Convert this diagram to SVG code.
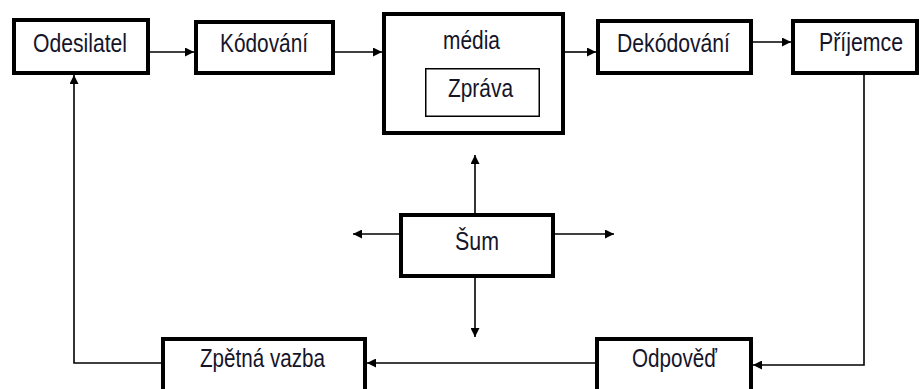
<svg xmlns="http://www.w3.org/2000/svg" width="921" height="389" viewBox="0 0 921 389">
<defs>
<style>
.box{fill:#fff;stroke:#000;stroke-width:4}
.thin{fill:#fff;stroke:#000;stroke-width:1.5}
.lbl{font-family:"Liberation Sans",Arial,sans-serif;font-size:25px;fill:#15152a}
.con{fill:none;stroke:#000;stroke-width:1.6}
</style>
<marker id="ah" viewBox="0 0 10 10" refX="10" refY="5" markerWidth="10" markerHeight="9" markerUnits="userSpaceOnUse" orient="auto">
<path d="M0,0 L10,5 L0,10 z" fill="#000"/>
</marker>
</defs>
<rect width="921" height="389" fill="#fff"/>
<g id="connectors">
<path class="con" d="M150,52 H194" marker-end="url(#ah)"/>
<path class="con" d="M335,52 H382" marker-end="url(#ah)"/>
<path class="con" d="M565,52 H596" marker-end="url(#ah)"/>
<path class="con" d="M753,42 H791" marker-end="url(#ah)"/>
<path class="con" d="M864,75 V365 H753" marker-end="url(#ah)"/>
<path class="con" d="M595,363 H367" marker-end="url(#ah)"/>
<path class="con" d="M161,363 H74 V75" marker-end="url(#ah)"/>
<path class="con" d="M475,213 V155" marker-end="url(#ah)"/>
<path class="con" d="M475,278 V337" marker-end="url(#ah)"/>
<path class="con" d="M399,234 H353" marker-end="url(#ah)"/>
<path class="con" d="M555,234 H614" marker-end="url(#ah)"/>
</g>
<g id="odesilatel"><rect class="box" x="14" y="20" width="134" height="53"/><text class="lbl" x="33" y="52" textLength="94" lengthAdjust="spacingAndGlyphs">Odesilatel</text></g>
<g id="kodovani"><rect class="box" x="196" y="22" width="137" height="51"/><text class="lbl" x="220" y="52" textLength="88" lengthAdjust="spacingAndGlyphs">Kódování</text></g>
<g id="media"><rect class="box" x="384" y="14" width="179" height="119"/><text class="lbl" x="443" y="49" textLength="57" lengthAdjust="spacingAndGlyphs">média</text></g>
<g id="zprava"><rect class="thin" x="425.75" y="68.75" width="113.5" height="47.5"/><text class="lbl" x="448" y="97" textLength="65" lengthAdjust="spacingAndGlyphs">Zpráva</text></g>
<g id="dekodovani"><rect class="box" x="598" y="21" width="153" height="52"/><text class="lbl" x="617" y="52" textLength="113" lengthAdjust="spacingAndGlyphs">Dekódování</text></g>
<g id="prijemce"><rect class="box" x="793" y="21" width="124" height="52"/><text class="lbl" x="819" y="51" textLength="84" lengthAdjust="spacingAndGlyphs">Příjemce</text></g>
<g id="sum"><rect class="box" x="401" y="215" width="152" height="61"/><text class="lbl" x="455" y="250" textLength="44" lengthAdjust="spacingAndGlyphs">Šum</text></g>
<g id="zpetna-vazba"><rect class="box" x="163" y="339" width="202" height="60"/><text class="lbl" x="200" y="367" textLength="125" lengthAdjust="spacingAndGlyphs">Zpětná vazba</text></g>
<g id="odpoved"><rect class="box" x="597" y="339" width="154" height="60"/><text class="lbl" x="632" y="367" textLength="85" lengthAdjust="spacingAndGlyphs">Odpověď</text></g>
</svg>
